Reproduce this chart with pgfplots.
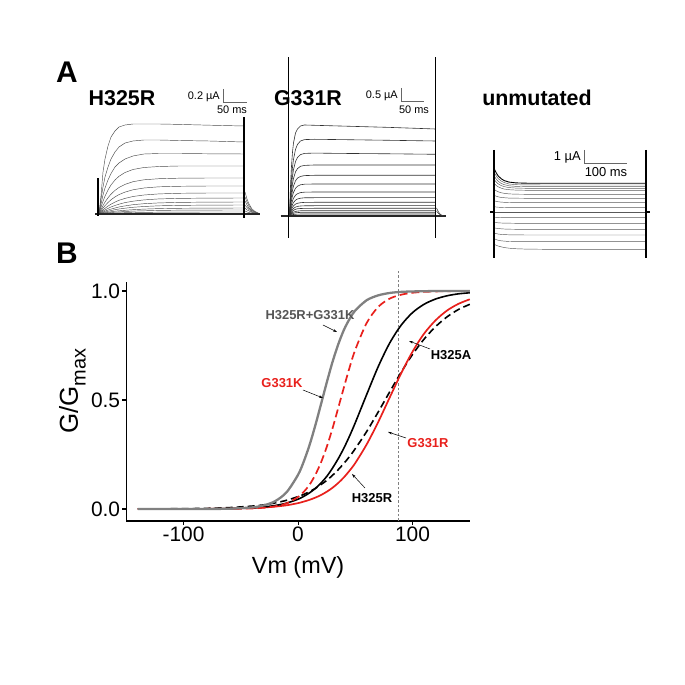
\documentclass[border=0pt]{standalone}
\usepackage{fontspec}
\setmainfont{Liberation Sans}
\usepackage{pgfplots}
\pgfplotsset{compat=1.18}
\usepackage{pgfplotstable}
\usetikzlibrary{arrows.meta}
\definecolor{myred}{HTML}{E8201C}
\definecolor{curvegray}{HTML}{808080}
\definecolor{labgray}{HTML}{555555}
\pgfplotsset{
  tracebox/.style={anchor=south west, scale only axis, hide axis, clip=false},
  trace/.style={black!70, line width=0.45bp},
}
% H325R current traces (time, current; arbitrary units)
\pgfplotstableread{
t   a1   a2   a3   a4   a5   a6   a7   a8   a9   a10 a11 a12  a13
0   0    0    0    0    0    0    0    0    0    0   0   0    0
2   18   15   10   6.9  4.5  3.1  2.1  1.5  1.0  0.7 0.4 0.3  0.1
4   42   27   19   12.7 8.4  5.9  4.0  2.8  1.9  1.3 0.8 0.5  0.3
6   55   37   26   17.8 11.9 8.3  5.7  4.0  2.8  1.9 1.2 0.8  0.4
9   68   47   34   24.0 16.2 11.5 7.9  5.6  3.9  2.7 1.7 1.1  0.5
12  77   55   40.5 29.0 19.8 14.2 9.8  7.0  4.9  3.4 2.2 1.4  0.7
16  83   62   47   34.0 23.6 17.1 11.9 8.5  6.0  4.3 2.8 1.8  0.9
20  87   67   51   37.7 26.5 19.4 13.7 9.8  7.0  5.0 3.2 2.1  1.1
26  89   71   55   41.5 29.6 21.9 15.6 11.4 8.1  5.8 3.7 2.5  1.3
34  90   73   58   44.5 32.3 24.2 17.5 12.8 9.3  6.7 4.3 2.9  1.5
45  90   74   60   46.5 34.2 26.0 19.0 14.1 10.3 7.5 4.9 3.2  1.6
60  90   74   60.5 47.5 35.3 27.2 20.1 15.1 11.1 8.2 5.4 3.6  1.8
80  89.6 73.5 60.5 48.0 35.8 27.7 20.7 15.6 11.6 8.6 5.7 3.8  1.9
110 88.8 73   60.2 48.0 36.0 28.0 21.0 15.9 11.9 8.9 5.9 3.95 2.0
145 88   72   60   48   36   28   21   16   12   9   6   4    2
}\hrtab
\pgfplotstableread{
t   b1   b2  b3  b4  b5  b6
146 22   17  13  9   6   3
148 15   12  9   6.5 4   2
150 10   8   6   4.5 3   1.5
153 5    4   3   2.2 1.5 0.7
156 2.5  2   1.5 1   0.7 0.3
160 0.5  0.4 0.3 0.2 0.1 0
}\hrtail
% G331R current traces
\pgfplotstableread{
t   c1   c2   c3   c4   c5   c6   c7   c8   c9   c10  c11  c12  c13  c14
0   0    0    0    0    0    0    0    0    0    0    0    0    0    0
1   30   22   17.8 14.4 11.5 9.1  6.8  5.2  3.9  2.9  2.2  1.5  1.0  0.6
2   50   37.5 30.7 24.8 19.8 15.6 11.7 8.9  6.7  5.0  3.8  2.6  1.8  1.0
3   64   48.7 39.8 32.2 25.7 20.2 15.2 11.6 8.7  6.5  4.9  3.4  2.3  1.3
4   73   56.7 46.4 37.5 30.0 23.6 17.7 13.5 10.1 7.6  5.7  3.9  2.7  1.5
6   83   66.6 54.5 44.1 35.2 27.7 20.8 15.8 11.9 8.9  6.7  4.6  3.2  1.7
8   87   71.6 58.6 47.4 37.9 29.8 22.3 17.0 12.7 9.6  7.2  4.9  3.4  1.9
11  90   75   61.4 49.7 39.6 31.2 23.4 17.8 13.3 10.0 7.5  5.2  3.6  1.95
15  91   76.4 62.6 50.6 40.4 31.8 23.8 18.2 13.6 10.2 7.6  5.3  3.7  2.0
25  90.7 76.7 62.9 51   40.7 32   24   18.3 13.7 10.3 7.7  5.3  3.7  2.0
50  90   76.4 62.6 51   40.7 32   24   18.3 13.7 10.3 7.7  5.3  3.7  2.0
100 88.6 75.7 62.2 51   40.7 32   24   18.3 13.7 10.3 7.7  5.3  3.7  2.0
146 87   75   61.7 51   40.7 32   24   18.3 13.7 10.3 7.7  5.3  3.7  2.0
}\grtab
% unmutated current traces
\pgfplotstableread{
t    u1   u2   u3   u4   u5   u6   u7   u8   u9  u10  u11   u12   u13   u14   u15   u16
0    43.7 40   36.3 32.7 28.7 22.7 16.7 11.3 5.3 -0.3 -5.2  -10.3 -15.8 -21   -26.7 -32.3
2    39.5 36.4 33.2 30.2 26.7 21.3 15.9 10.7 5.0 -0.3 -5.3  -10.6 -16.2 -21.6 -27.5 -33.2
4    36.3 33.6 30.9 28.3 25.3 20.3 15.2 10.3 4.8 -0.3 -5.4  -10.8 -16.5 -22   -28.2 -34
7    33.4 31   28.7 26.5 23.9 19.3 14.6 9.9  4.6 -0.3 -5.55 -11   -16.8 -22.4 -28.8 -34.8
10   31.5 29.5 27.4 25.4 23.0 18.7 14.3 9.7  4.5 -0.3 -5.6  -11.1 -17   -22.6 -29.1 -35.5
15   29.9 28   26.2 24.4 22.3 18.1 13.9 9.5  4.4 -0.3 -5.65 -11.2 -17.2 -22.8 -29.5 -36.2
22   29.1 27.3 25.6 23.9 21.9 17.8 13.8 9.35 4.3 -0.3 -5.7  -11.3 -17.3 -22.9 -29.6 -36.75
32   28.8 27.1 25.4 23.7 21.7 17.7 13.7 9.3  4.3 -0.3 -5.7  -11.3 -17.3 -23   -29.7 -37.1
50   28.7 27   25.3 23.7 21.7 17.7 13.7 9.3  4.3 -0.3 -5.7  -11.3 -17.3 -23   -29.7 -37.3
100  28.7 27   25.3 23.7 21.7 17.7 13.7 9.3  4.3 -0.3 -5.7  -11.3 -17.3 -23   -29.7 -37.3
152  28.7 27   25.3 23.7 21.7 17.7 13.7 9.3  4.3 -0.3 -5.7  -11.3 -17.3 -23   -29.7 -37.3
}\unmtab
% G/Gmax curves
\pgfplotstableread{
V    gray  rdash bsol  bdash rsol
-140 0.0000 0.0000 0.0000 0.0003 0.0000
-120 0.0000 0.0000 0.0001 0.0007 0.0001
-100 0.0001 0.0000 0.0002 0.0015 0.0003
-80  0.0003 0.0001 0.0007 0.0030 0.0007
-60  0.0015 0.0006 0.0020 0.0064 0.0018
-40  0.0075 0.0027 0.0057 0.0134 0.0045
-30  0.0166 0.0058 0.0097 0.0190 0.0070
-20  0.036  0.0124 0.016  0.028  0.011
-10  0.077  0.026  0.027  0.040  0.017
0    0.157  0.055  0.045  0.057  0.027
5    0.218  0.079  0.058  0.067  0.034
10   0.293  0.111  0.074  0.080  0.042
15   0.382  0.156  0.094  0.094  0.052
20   0.480  0.213  0.119  0.112  0.064
25   0.579  0.284  0.149  0.131  0.079
30   0.673  0.368  0.187  0.154  0.097
35   0.754  0.462  0.230  0.180  0.119
40   0.821  0.557  0.279  0.209  0.145
45   0.872  0.649  0.335  0.241  0.176
50   0.911  0.731  0.396  0.277  0.211
60   0.958  0.854  0.526  0.356  0.297
70   0.980  0.927  0.653  0.445  0.399
80   0.991  0.965  0.761  0.537  0.511
90   0.996  0.983  0.843  0.627  0.622
100  0.998  0.992  0.901  0.709  0.722
110  0.999  0.996  0.939  0.779  0.804
120  1.000  0.998  0.963  0.836  0.865
130  1.000  0.999  0.978  0.881  0.910
140  1.000  1.000  0.987  0.915  0.941
150  1.000  1.000  0.992  0.939  0.962
}\gvtab
\begin{document}
\begin{tikzpicture}
\path[use as bounding box] (0,0) rectangle (685bp,685bp);

% ---- H325R traces
\begin{axis}[tracebox, at={(89bp,461bp)}, width=180bp, height=120bp,
  xmin=-10, xmax=170, ymin=-10, ymax=110]
\pgfplotsinvokeforeach{1,...,13}{\addplot[trace] table[x=t,y=a#1]{\hrtab};}
\pgfplotsinvokeforeach{1,...,6}{\addplot[trace] table[x=t,y=b#1]{\hrtail};}
\addplot[black!85, line width=2bp] coordinates {(-4,0) (161,0)};
\addplot[black, line width=1.5bp] coordinates {(-1,-2) (-1,36)};
\addplot[black, line width=2bp] coordinates {(145,-4) (145,97)};
\end{axis}

% ---- G331R traces
\begin{axis}[tracebox, at={(279.5bp,439bp)}, width=180bp, height=200bp,
  xmin=-10, xmax=170, ymin=-30, ymax=170]
\pgfplotsinvokeforeach{1,...,14}{\addplot[black!80, line width=0.6bp] table[x=t,y=c#1]{\grtab};}
\addplot[black!85, line width=2bp] coordinates {(-9,0) (156,0)};
\addplot[black!80, line width=0.5bp] coordinates {(147,8) (149,4) (151,1.5) (154,0)};
\addplot[black!80, line width=0.5bp] coordinates {(147,5) (149,2.5) (151,1) (154,0)};
\addplot[black, line width=0.7bp] coordinates {(-1,-22) (-1,159)};
\addplot[black, line width=1.4bp] coordinates {(146,-22) (146,159)};
\end{axis}

% ---- unmutated traces
\begin{axis}[tracebox, at={(484bp,413bp)}, width=180bp, height=140bp,
  xmin=-10, xmax=170, ymin=-60, ymax=80]
\pgfplotsinvokeforeach{2,...,16}{\addplot[black!65, line width=0.45bp] table[x=t,y=u#1]{\unmtab};}
\addplot[black, line width=0.9bp] table[x=t,y=u1]{\unmtab};
\addplot[black, line width=1.6bp] coordinates {(0,62) (0,-46)};
\addplot[black, line width=1.6bp] coordinates {(152,62) (152,-46)};
\addplot[black, line width=1.5bp] coordinates {(-4,0) (0,0)};
\addplot[black, line width=1.5bp] coordinates {(152,0) (156,0)};
\end{axis}

% ---- panel B
\begin{axis}[at={(126.3bp,164bp)}, anchor=south west, scale only axis,
  width=343.5bp, height=238.7bp,
  xmin=-150, xmax=150, ymin=-0.055, ymax=1.04,
  axis lines*=left, axis line style={-, line width=1.1bp, black},
  xtick={-100,0,100}, xticklabels={-100,0,100},
  ytick={0,0.5,1}, yticklabels={0.0,0.5,1.0},
  tick align=outside, major tick length=4bp,
  tick style={black, line width=1.1bp},
  tick label style={font=\fontsize{21}{21}\selectfont},
  xticklabel style={inner sep=2bp},
  yticklabel style={inner sep=2bp},
  xlabel={Vm (mV)},
  xlabel style={font=\fontsize{23.5}{23.5}\selectfont, at={(axis description cs:0.5,-0.218)}, anchor=base},
  ylabel={G/G\raisebox{-0.3em}{\fontsize{20}{20}\selectfont max}},
  ylabel style={font=\fontsize{26}{26}\selectfont, at={(axis description cs:-0.157,0.544)}, anchor=center},
  clip=false]
\addplot[curvegray, line width=0.6bp, dash pattern=on 2.5bp off 2bp] coordinates {(87.5,-0.055) (87.5,1.095)};
\addplot[black, line width=1.6bp, dash pattern=on 7bp off 4bp, smooth] table[x=V,y=bdash]{\gvtab};
\addplot[myred, line width=1.7bp, smooth] table[x=V,y=rsol]{\gvtab};
\addplot[black, line width=1.6bp, smooth] table[x=V,y=bsol]{\gvtab};
\addplot[myred, line width=1.7bp, dash pattern=on 8bp off 4bp, smooth] table[x=V,y=rdash]{\gvtab};
\addplot[curvegray, line width=2.3bp, smooth] table[x=V,y=gray]{\gvtab};
\end{axis}

% ---- texts and annotations (pixel coordinates, y downwards)
\begin{scope}[shift={(0bp,685bp)}, x=1bp, y=-1bp]
\node[anchor=base west, inner sep=0, font=\fontsize{30}{30}\selectfont\bfseries] at (56,83) {A};
\node[anchor=base west, inner sep=0, font=\fontsize{30}{30}\selectfont\bfseries] at (56,264) {B};
\node[anchor=base, inner sep=0, font=\fontsize{21.5}{21.5}\selectfont\bfseries] at (122,106) {H325R};
\node[anchor=base, inner sep=0, font=\fontsize{21.5}{21.5}\selectfont\bfseries] at (308,106) {G331R};
\node[anchor=base, inner sep=0, font=\fontsize{21.5}{21.5}\selectfont\bfseries] at (537,106) {unmutated};
% scale bars
\node[anchor=base east, inner sep=0, font=\fontsize{11}{11}\selectfont] at (220,100) {0.2 µA};
\draw[black!60, line width=0.6bp] (223,89) -- (223,102) -- (247,102);
\node[anchor=base, inner sep=0, font=\fontsize{11}{11}\selectfont] at (232,114) {50 ms};
\node[anchor=base east, inner sep=0, font=\fontsize{11}{11}\selectfont] at (398,99) {0.5 µA};
\draw[black!60, line width=0.6bp] (401,88) -- (401,101) -- (424,101);
\node[anchor=base, inner sep=0, font=\fontsize{11}{11}\selectfont] at (414,114) {50 ms};
\node[anchor=base east, inner sep=0, font=\fontsize{13}{13}\selectfont] at (581,161) {1 µA};
\draw[black!60, line width=0.6bp] (584,150) -- (584,163) -- (627,163);
\node[anchor=base, inner sep=0, font=\fontsize{13}{13}\selectfont] at (606,177) {100 ms};
% curve labels
\begin{scope}[every node/.style={inner sep=0, font=\fontsize{13}{13}\selectfont\bfseries},
  arr/.style={-{Stealth[length=4bp,width=2.6bp]}, line width=0.5bp, black}]
\node[labgray] at (310,315) {H325R+G331K};
\draw[arr] (323,325) -- (337,332);
\node[myred] at (282,383) {G331K};
\draw[arr] (303,390) -- (323,398);
\node[black] at (451,355) {H325A};
\draw[arr] (430,349) -- (409,341);
\node[myred] at (428,443) {G331R};
\draw[arr] (406,438) -- (388,432);
\node[black] at (372,498) {H325R};
\draw[arr] (365,488) -- (352,474);
\end{scope}
\end{scope}
\end{tikzpicture}
\end{document}
